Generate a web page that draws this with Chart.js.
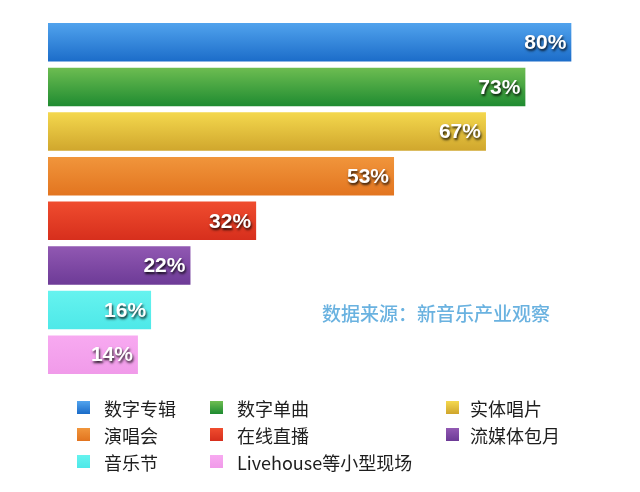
<!DOCTYPE html>
<html>
<head>
<meta charset="utf-8">
<script src="https://cdn.jsdelivr.net/npm/chart.js@4.4.0/dist/chart.umd.min.js"></script>
<style>
  html, body { margin: 0; padding: 0; background: #fff; }
  #wrap { position: relative; width: 640px; height: 492px; }
  #chart { position: absolute; left: 0; top: 0; }
  #source {
    position: absolute; left: 322px; top: 299px;
    font: 500 19px "Noto Sans CJK SC", sans-serif; color: #6ab2e0; white-space: nowrap;
  }
  #legend { position: absolute; left: 0; top: 0; width: 640px; }
  .item { position: absolute; font: 18px "Noto Sans CJK SC", sans-serif; color: #1e1e1e; white-space: nowrap; line-height: 22px; }
  .box { position: absolute; width: 13px; height: 13px; top: 4px; }
</style>
</head>
<body>
<div id="wrap">
  <canvas id="chart" width="640" height="492"></canvas>
  <div id="source">数据来源：新音乐产业观察</div>
  <div id="legend"></div>
</div>
<script>
// Data
const categories = ['数字专辑', '数字单曲', '实体唱片', '演唱会', '在线直播', '流媒体包月', '音乐节', 'Livehouse等小型现场'];
const shares = [80, 73, 67, 53, 32, 22, 16, 14];
const topColors = ['#52a4ee', '#6fbe52', '#f5d94e', '#f1963c', '#f04d2f', '#9259b3', '#66f3ef', '#f8aaf1'];
const bottomColors = ['#1a6bc8', '#1d8a30', '#cfa52c', '#e2741f', '#d62e1c', '#6c3a96', '#4de8e8', '#f09ae9'];

// legend layout: 3 columns
const legendCols = [77, 210, 446];
const legendRows = [397, 424, 451];

function barGradient(context) {
    const chart = context.chart;
    const i = context.dataIndex;
    if (!chart.chartArea || !chart.scales.y) return topColors[i];
    const yScale = chart.scales.y;
    const yc = yScale.getPixelForValue(i);
    const half = (chart.chartArea.height / categories.length) * 0.91 / 2;
    const g = chart.ctx.createLinearGradient(0, yc - half, 0, yc + half);
    g.addColorStop(0, topColors[i]);
    g.addColorStop(1, bottomColors[i]);
    return g;
}

// value labels at the bar ends
const valueLabels = {
    id: 'valueLabels',
    afterDatasetsDraw(chart) {
        const ctx = chart.ctx;
        const meta = chart.getDatasetMeta(0);
        ctx.save();
        ctx.font = 'bold 21px "Liberation Sans", Arial, sans-serif';
        ctx.textAlign = 'right';
        ctx.textBaseline = 'middle';
        meta.data.forEach(function(bar, i) {
            const txt = shares[i] + '%';
            ctx.shadowColor = 'rgba(0,0,0,0.85)';
            ctx.shadowOffsetX = 1;
            ctx.shadowOffsetY = 2;
            ctx.shadowBlur = 2.5;
            ctx.fillStyle = '#fff';
            ctx.fillText(txt, bar.x - 6, bar.y + 1);
        });
        ctx.restore();
    }
};

const ctx = document.getElementById('chart').getContext('2d');
const chart = new Chart(ctx, {
    type: 'bar',
    data: {
        labels: categories,
        datasets: [{
            data: shares,
            backgroundColor: barGradient,
            borderColor: 'rgba(255,255,255,0.35)',
            borderWidth: 1,
            borderSkipped: false,
            categoryPercentage: 1,
            barPercentage: 0.91
        }]
    },
    options: {
        indexAxis: 'y',
        responsive: false,
        animation: false,
        layout: { padding: { left: 47, right: 2, top: 20, bottom: 115 } },
        plugins: {
            legend: { display: false },
            tooltip: { enabled: false }
        },
        scales: {
            x: { display: false, min: 0, max: 90 },
            y: { display: false }
        }
    },
    plugins: [valueLabels]
});

// HTML legend built from the data arrays
const legend = document.getElementById('legend');
categories.forEach(function(name, i) {
    const item = document.createElement('div');
    item.className = 'item';
    item.style.left = legendCols[i % 3] + 'px';
    item.style.top = legendRows[Math.floor(i / 3)] + 'px';
    item.style.paddingLeft = (i % 3 === 2 ? 24 : 27) + 'px';
    const box = document.createElement('span');
    box.className = 'box';
    box.style.left = '0px';
    box.style.background = 'linear-gradient(' + topColors[i] + ',' + bottomColors[i] + ')';
    item.appendChild(box);
    item.appendChild(document.createTextNode(name));
    legend.appendChild(item);
});
</script>
</body>
</html>
